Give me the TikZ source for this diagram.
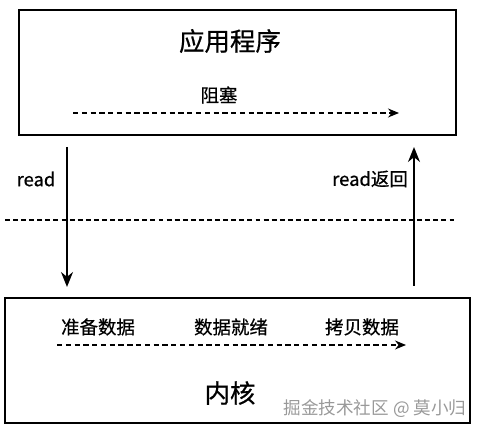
\documentclass[tikz,border=0pt]{standalone}
\usepackage{fontspec}
\setmainfont{Noto Sans CJK SC}[FakeBold=0.6]
\newfontfamily\markfont{Noto Sans CJK SC}
\usetikzlibrary{arrows.meta,positioning}

\begin{document}
\begin{tikzpicture}[
  x=0.02cm, y=-0.02cm,
  font=\fontsize{10.5pt}{12pt}\selectfont,
  layer/.style={draw, line width=1.6pt, minimum height=2.5cm, inner sep=0pt},
  title/.style={font=\fontsize{14.5pt}{16pt}\selectfont},
  flow/.style={densely dashed, line width=0.7pt, -{Stealth[length=2.2mm,width=1.8mm]}},
  call/.style={line width=1.1pt, -{Stealth[length=3mm,width=2.4mm]}},
  >={Stealth[length=2mm]}
]
\useasboundingbox (0,0) rectangle (481,432);

% User space
\node[layer, minimum width=8.74cm] (app) at (237.5,72.5) {};
\node[title] (apptitle) at (230,41) {应用程序};
\node (block) at (219,95) {阻塞};
\coordinate (bs) at (73,113);
\coordinate (be) at (399,113);
\draw[flow] (bs) -- (be);

% Kernel space
\node[layer, minimum width=9.3cm] (kern) at (237.5,360.5) {};
\node (prep) at (98,327) {准备数据};
\node (ready) at (231,327) {数据就绪};
\node (copy) at (362,327) {拷贝数据};
\coordinate (ks) at (57,345);
\coordinate (ke) at (406,345);
\draw[flow] (ks) -- (ke);
\node[title] (kerntitle) at (230,393) {内核};
\node[text=gray!80, font=\markfont\fontsize{10pt}{12pt}\selectfont] (mark) at (375,409) {掘金技术社区 @ 莫小归};

% Boundary
\coordinate (ls) at (5,220);
\coordinate (le) at (457,220);
\draw[line width=0.6pt, dash pattern=on 2.8pt off 1.8pt] (ls) -- (le);

% Calls
\coordinate (rd1) at (67,147);
\coordinate (rd2) at (67,287);
\draw[call] (rd1) -- (rd2);
\node (read) at (36,179) {read};
\coordinate (rt1) at (414,286);
\coordinate (rt2) at (414,147);
\draw[call] (rt1) -- (rt2);
\node (ret) at (370,179) {read返回};
\end{tikzpicture}
\end{document}
